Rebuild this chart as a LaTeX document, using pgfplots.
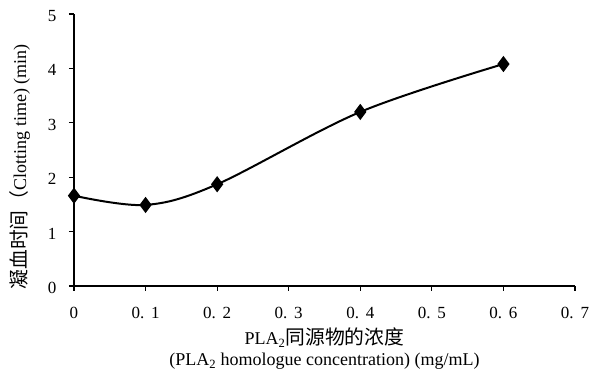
\documentclass[border=0pt]{standalone}
\usepackage{pgfplots}
\pgfplotsset{compat=1.18}
\usepackage{fontspec}
\setmainfont{Liberation Serif}
\newfontfamily\cjk[Scale=1.1]{Noto Sans CJK SC}
\begin{document}
\begin{tikzpicture}[font=\fontsize{17pt}{19pt}\selectfont]
\begin{axis}[
  scale only axis,
  width=501pt, height=272pt,
  xmin=0, xmax=0.7, ymin=0, ymax=5,
  axis lines=left,
  axis line style={-, line width=1.3pt},
  tick align=outside,
  major tick length=5pt,
  tick style={black, line width=1.1pt},
  xtick={0,0.1,0.2,0.3,0.4,0.5,0.6,0.7},
  xticklabels={0,0.\hspace{0.4em}1,0.\hspace{0.4em}2,0.\hspace{0.4em}3,0.\hspace{0.4em}4,0.\hspace{0.4em}5,0.\hspace{0.4em}6,0.\hspace{0.4em}7},
  ytick={0,1,2,3,4,5},
  yticklabels={0,1,2,3,4,5},
  ticklabel style={font=\fontsize{17pt}{19pt}\selectfont},
  xticklabel style={yshift=-13pt},
  yticklabel style={xshift=-9pt, yshift=-2pt},
  xlabel={PLA\textsubscript{2}{\cjk 同源物的浓度}\\(PLA\textsubscript{2} homologue concentration) (mg/mL)},
  xlabel style={align=center, font=\fontsize{18pt}{21pt}\selectfont, yshift=-2pt},
  ylabel={{\cjk 凝血时间（}Clotting time) (min)},
  ylabel style={font=\fontsize{18pt}{20pt}\selectfont, yshift=11pt, xshift=-17pt},
  clip=false,
]
\addplot[black, line width=2pt, smooth, tension=0.55, mark=diamond*, mark size=6.5pt, mark options={solid, fill=black}]
coordinates {(0,1.66) (0.1,1.49) (0.2,1.87) (0.4,3.2) (0.6,4.08)};
\end{axis}
\pgfresetboundingbox
\path (current axis.south west) ++(-74pt,-88pt) coordinate (bbA);
\path (current axis.north east) ++(15pt,14pt) coordinate (bbB);
\useasboundingbox (bbA) rectangle (bbB);
\end{tikzpicture}
\end{document}
